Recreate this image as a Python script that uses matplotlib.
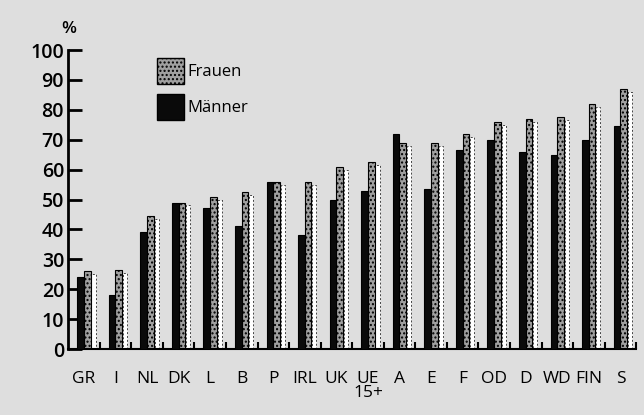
import matplotlib.pyplot as plt
import numpy as np
from matplotlib.patches import Patch

# Data
LAENDER = ["GR", "I", "NL", "DK", "L", "B", "P", "IRL", "UK", "UE\n15+",
           "A", "E", "F", "OD", "D", "WD", "FIN", "S"]
MAENNER = [24, 18, 39, 49, 47, 41, 56, 38, 50, 53, 72, 53.5, 66.5, 70, 66, 65, 70, 74.5]
FRAUEN = [26, 26.5, 44.5, 49, 51, 52.5, 56, 56, 61, 62.5, 69, 69, 72, 76, 77, 77.5, 82, 87]

plt.rcParams["font.family"] = ["Open Sans", "DejaVu Sans"]

BG = "#dedede"
fig = plt.figure(figsize=(6.44, 4.15), dpi=100, facecolor=BG)
ax = fig.add_axes([0.106, 0.159, 0.882, 0.7205])
ax.set_facecolor(BG)

x = np.arange(len(LAENDER))
w = 0.21
# white "shadow" behind the grey bars
ax.bar(x + 0.30, np.array(FRAUEN) - 1, width=0.13, color="white",
       edgecolor="#444444", linestyle=(0, (2, 2)), linewidth=0.7, zorder=1)
ax.bar(x - 0.11, MAENNER, width=w, color="#0a0a0a", edgecolor="black",
       linewidth=0.8, zorder=3)
ax.bar(x + 0.10, FRAUEN, width=w, color="#a0a0a0", edgecolor="black",
       hatch="....", linewidth=0.8, zorder=2)

ax.set_xlim(-0.5, len(LAENDER) - 0.5)
ax.set_ylim(0, 100)
ax.set_yticks(range(0, 101, 10))
ax.tick_params(axis="y", direction="in", length=10, width=2, labelsize=14, pad=3)
for t in ax.get_yticklabels():
    t.set_fontweight("semibold")
ax.set_xticks(x)
ax.set_xticklabels(LAENDER, fontsize=12.5, linespacing=0.85, va="top",
                   fontweight="medium")
ax.tick_params(axis="x", length=0, pad=16)
ax.set_xticks(x + 0.5, minor=True)
ax.tick_params(axis="x", which="minor", direction="in", length=5, width=1.5)

for s in ["top", "right"]:
    ax.spines[s].set_visible(False)
ax.spines["left"].set_linewidth(2)
ax.spines["bottom"].set_linewidth(1.5)

fig.text(0.106, 0.93, "%", fontsize=12.5, ha="center", va="center",
         fontweight="semibold")

handles = [Patch(facecolor="#a0a0a0", edgecolor="black", hatch="...."),
           Patch(facecolor="#0a0a0a", edgecolor="black")]
ax.legend(handles, ["Frauen", "Männer"], loc="upper left",
          bbox_to_anchor=(0.13, 1.025), frameon=False, fontsize=12,
          handlelength=1.6, handleheight=2.1, handletextpad=0.2,
          labelspacing=0.55)

fig.savefig("out.png", dpi=100, facecolor=BG)
